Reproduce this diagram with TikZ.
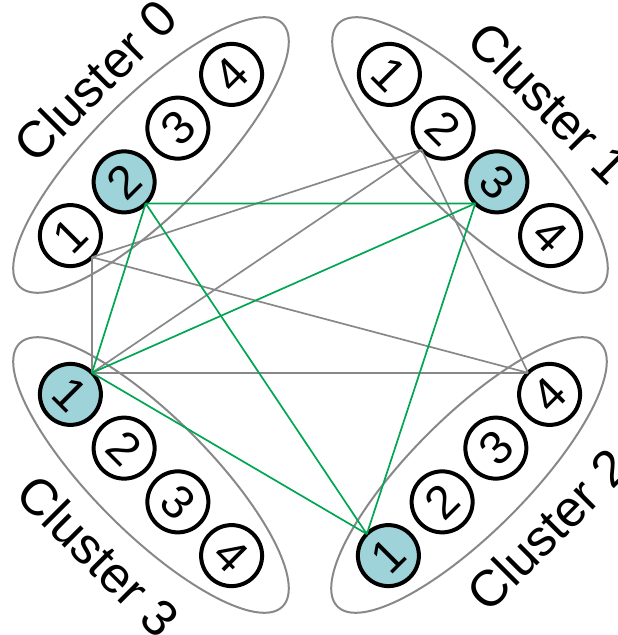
\documentclass[tikz,border=0pt]{standalone}
\usepackage{fontspec}
\setmainfont{Liberation Sans}
\definecolor{edgegray}{HTML}{888888}
\definecolor{pairgreen}{HTML}{00A651}
\definecolor{pickcyan}{HTML}{9ED3D9}
\tikzset{
  member/.style={circle,draw=black,line width=4pt,minimum size=61pt,inner sep=0pt,outer sep=0pt,fill=white,font=\fontsize{47}{47}\selectfont},
  picked/.style={member,fill=pickcyan},
  group/.style={draw=edgegray,line width=2pt},
  grouplabel/.style={font=\fontsize{51}{51}\selectfont},
  grayedge/.style={draw=edgegray,line width=1.7pt},
  greenedge/.style={draw=pairgreen,line width=1.7pt}
}
\begin{document}
\begin{tikzpicture}[x=1pt,y=1pt]
    \useasboundingbox (-310,-320) rectangle (308,315);
    % cluster 0, upper left
    \begin{scope}[shift={(-159,160)},rotate=45,transform shape]
    \draw[group] (0,0) ellipse [x radius=186, y radius=58];
    \node[member] (c0n1) at (-114,0) {1};
    \node[picked] (c0n2) at (-38,0) {2};
    \node[member] (c0n3) at (38,0) {3};
    \node[member] (c0n4) at (114,0) {4};
    \node[grouplabel] (lab0) at (13,92) {Cluster 0};
    \end{scope}
    % cluster 1, upper right
    \begin{scope}[shift={(160,160)},rotate=-45,transform shape]
    \draw[group] (0,0) ellipse [x radius=186, y radius=58];
    \node[member] (c1n1) at (-114,0) {1};
    \node[member] (c1n2) at (-38,0) {2};
    \node[picked] (c1n3) at (38,0) {3};
    \node[member] (c1n4) at (114,0) {4};
    \node[grouplabel] (lab1) at (19,93) {Cluster 1};
    \end{scope}
    % cluster 2, lower right
    \begin{scope}[shift={(159,-160)},rotate=45,transform shape]
    \draw[group] (0,0) ellipse [x radius=186, y radius=58];
    \node[picked] (c2n1) at (-114,0) {1};
    \node[member] (c2n2) at (-38,0) {2};
    \node[member] (c2n3) at (38,0) {3};
    \node[member] (c2n4) at (114,0) {4};
    \node[grouplabel] (lab2) at (17,-94) {Cluster 2};
    \end{scope}
    % cluster 3, lower left
    \begin{scope}[shift={(-159,-160)},rotate=-45,transform shape]
    \draw[group] (0,0) ellipse [x radius=186, y radius=58];
    \node[picked] (c3n1) at (-114,0) {1};
    \node[member] (c3n2) at (-38,0) {2};
    \node[member] (c3n3) at (38,0) {3};
    \node[member] (c3n4) at (114,0) {4};
    \node[grouplabel] (lab3) at (20,-94) {Cluster 3};
    \end{scope}
    % gray links
    \draw[grayedge] (c0n1.south)--(c1n2.south);
    \draw[grayedge] (c0n1.south)--(c2n4.north);
    \draw[grayedge] (c0n1.south)--(c3n1.north);
    \draw[grayedge] (c3n1.north)--(c1n2.south);
    \draw[grayedge] (c3n1.north)--(c2n4.north);
    \draw[grayedge] (c1n2.south)--(c2n4.north);
    % green links
    \draw[greenedge] (c0n2.south)--(c1n3.south);
    \draw[greenedge] (c0n2.south)--(c2n1.north);
    \draw[greenedge] (c0n2.south)--(c3n1.north);
    \draw[greenedge] (c1n3.south)--(c3n1.north);
    \draw[greenedge] (c1n3.south)--(c2n1.north);
    \draw[greenedge] (c3n1.north)--(c2n1.north);
\end{tikzpicture}
\end{document}
